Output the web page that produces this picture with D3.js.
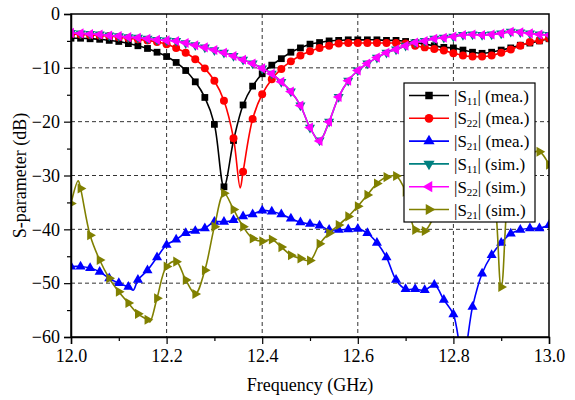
<!DOCTYPE html>
<html>
<head>
<meta charset="utf-8">
<script src="https://cdn.jsdelivr.net/npm/d3@7"></script>
<style>
    body { margin: 0; background: #fff; }
</style>
</head>
<body>
<div id="chart"></div>
<script>
const WIDTH = 575;
const HEIGHT = 400;
const MARGIN = { left: 71, right: 26, top: 14, bottom: 63 };
const FONT = '"Liberation Serif"';

// frequency points (GHz), one marker per point
const freqs = d3.range(51).map(i => +(12 + i * 0.02).toFixed(2));

const s11Mea = [-4.5, -4.5, -4.6, -4.7, -4.9, -5.1, -5.5, -5.9, -6.4, -7.1,
    -7.9, -9.0, -10.5, -12.6, -15.5, -20.5, -32.1, -23.5, -16.9, -13.4,
    -11.1, -9.5, -8.3, -7.1, -6.3, -5.6, -5.3, -5.0, -4.9, -4.8,
    -4.8, -4.8, -4.8, -4.9, -4.9, -5.1, -5.3, -5.6, -5.9, -6.2,
    -6.3, -6.7, -7.1, -7.3, -7.1, -6.7, -6.3, -5.8, -5.4, -5.0, -4.6];

const s22Mea = [-3.7, -3.8, -3.9, -4.0, -4.1, -4.3, -4.5, -4.7, -4.9, -5.2,
    -5.6, -6.3, -7.2, -8.4, -10.1, -12.4, -16.1, -23.1, -29.3, -19.5,
    -14.9, -12.1, -10.2, -8.8, -7.7, -6.9, -6.3, -5.9, -5.5, -5.4,
    -5.4, -5.4, -5.4, -5.4, -5.4, -5.5, -5.9, -6.2, -6.5, -6.8,
    -7.3, -7.7, -7.9, -7.9, -7.7, -7.2, -6.6, -5.9, -5.2, -4.9, -4.5];

const s21Mea = [-46.9, -46.9, -47.2, -47.9, -49.1, -50.0, -50.7, -49.4, -47.6, -45.2,
    -42.9, -41.9, -40.7, -40.3, -39.8, -38.6, -38.6, -38.3, -37.6, -37.2,
    -36.5, -36.7, -37.2, -38.0, -38.7, -39.0, -39.3, -40.1, -40.1, -40.0,
    -39.9, -40.7, -42.5, -45.2, -49.4, -51.1, -51.1, -51.3, -50.3, -53.1,
    -55.8, -64.0, -54.4, -48.2, -44.8, -42.5, -40.8, -40.1, -39.8, -39.8, -39.2];

const s11Sim = [-3.5, -3.6, -3.7, -3.8, -4.0, -4.1, -4.3, -4.4, -4.6, -4.8,
    -4.9, -5.0, -5.4, -5.8, -6.2, -6.7, -7.2, -7.8, -8.5, -9.2,
    -10.1, -11.1, -12.6, -14.4, -17.0, -21.1, -23.5, -20.0, -15.4, -12.4,
    -10.5, -9.2, -8.1, -7.2, -6.6, -5.9, -5.3, -5.0, -4.6, -4.4,
    -4.2, -3.9, -3.8, -3.9, -3.8, -3.6, -3.3, -3.4, -3.6, -3.8, -3.9];

const s22Sim = [-3.5, -3.6, -3.7, -3.8, -4.0, -4.1, -4.3, -4.4, -4.6, -4.8,
    -4.9, -5.0, -5.4, -5.8, -6.2, -6.7, -7.2, -7.8, -8.5, -9.2,
    -10.1, -11.1, -12.6, -14.4, -17.0, -21.1, -23.6, -20.0, -15.4, -12.4,
    -10.5, -9.2, -8.1, -7.2, -6.6, -5.9, -5.3, -5.0, -4.6, -4.4,
    -4.2, -3.9, -3.8, -3.9, -3.8, -3.6, -3.3, -3.4, -3.6, -3.8, -3.9];

const s21Sim = [-35.2, -32.4, -41.1, -45.7, -49.1, -51.6, -53.7, -55.7, -56.8, -52.8,
    -46.9, -46.0, -49.4, -52.0, -47.6, -39.5, -33.3, -36.3, -39.5, -41.7,
    -42.2, -41.9, -43.3, -44.8, -45.4, -45.8, -42.7, -40.7, -39.2, -37.6,
    -35.7, -33.6, -31.5, -30.3, -30.1, -33.0, -40.1, -40.3, -37.5, -33.5,
    -31.5, -30.0, -29.0, -28.8, -31.0, -50.7, -30.0, -27.0, -25.8, -25.6, -28.0];

// extra points on the curves that fall between markers [freq, dB]
const s22MeaExtra = [[12.354, -32.3]];
const s21MeaExtra = [[12.13, -51.3]];
const s21SimExtra = [[12.015, -31.0], [12.165, -57.2]];

const xTicks = [12.0, 12.2, 12.4, 12.6, 12.8, 13.0];
const yTicks = [0, -10, -20, -30, -40, -50, -60];

const series = [
    { name: '11', tag: '(mea.)', values: s11Mea, extra: [], color: '#000000', symbol: d3.symbolSquare, size: 46, rotate: 0 },
    { name: '22', tag: '(mea.)', values: s22Mea, extra: s22MeaExtra, color: '#ff0000', symbol: d3.symbolCircle, size: 50, rotate: 0 },
    { name: '21', tag: '(mea.)', values: s21Mea, extra: s21MeaExtra, color: '#0000ff', symbol: d3.symbolTriangle, size: 44, rotate: 0 },
    { name: '11', tag: '(sim.)', values: s11Sim, extra: [], color: '#008080', symbol: d3.symbolTriangle, size: 44, rotate: 180 },
    { name: '22', tag: '(sim.)', values: s22Sim, extra: [], color: '#ff00ff', symbol: d3.symbolTriangle, size: 44, rotate: -90 },
    { name: '21', tag: '(sim.)', values: s21Sim, extra: s21SimExtra, color: '#808000', symbol: d3.symbolTriangle, size: 44, rotate: 90 }
];

const svg = d3.select('#chart').append('svg')
    .attr('width', WIDTH)
    .attr('height', HEIGHT);

const w = WIDTH - MARGIN.left - MARGIN.right;
const h = HEIGHT - MARGIN.top - MARGIN.bottom;

const g = svg.append('g')
    .attr('transform', `translate(${MARGIN.left}, ${MARGIN.top})`);

const x = d3.scaleLinear().domain([12, 13]).range([0, w]);
const y = d3.scaleLinear().domain([-60, 0]).range([h, 0]);

// dashed grid
g.append('g')
    .selectAll('line')
    .data(xTicks.slice(1, -1))
    .join('line')
    .attr('x1', d => x(d)).attr('x2', d => x(d))
    .attr('y1', 0).attr('y2', h)
    .attr('stroke', '#333').attr('stroke-dasharray', '4,3').attr('stroke-width', 1);

g.append('g')
    .selectAll('line')
    .data(yTicks.slice(1, -1))
    .join('line')
    .attr('x1', 0).attr('x2', w)
    .attr('y1', d => y(d)).attr('y2', d => y(d))
    .attr('stroke', '#333').attr('stroke-dasharray', '4,3').attr('stroke-width', 1);

// clip data to plot area
svg.append('defs').append('clipPath')
    .attr('id', 'plot-clip')
    .append('rect')
    .attr('width', w).attr('height', h);

const plot = g.append('g').attr('clip-path', 'url(#plot-clip)');

const line = d3.line()
    .x(d => x(d[0]))
    .y(d => y(d[1]))
    .curve(d3.curveCatmullRom.alpha(0.5));

series.forEach(s => {
    const pts = freqs.map((f, i) => [f, s.values[i]])
        .concat(s.extra)
        .sort((a, b) => a[0] - b[0]);

    plot.append('path')
        .datum(pts)
        .attr('fill', 'none')
        .attr('stroke', s.color)
        .attr('stroke-width', 1.6)
        .attr('d', line);

    plot.append('g')
        .selectAll('path')
        .data(freqs.map((f, i) => [f, s.values[i]]))
        .join('path')
        .attr('d', d3.symbol(s.symbol, s.size))
        .attr('transform', d => `translate(${x(d[0])}, ${y(d[1])}) rotate(${s.rotate})`)
        .attr('fill', s.color);
});

// axes
g.append('g')
    .attr('transform', `translate(0, ${h})`)
    .call(d3.axisBottom(x).tickValues(xTicks).tickFormat(d3.format('.1f')).tickSize(7).tickPadding(5));

g.append('g')
    .attr('transform', `translate(0, ${h})`)
    .call(d3.axisBottom(x).tickValues(d3.range(12.1, 13, 0.2)).tickFormat('').tickSize(4))
    .select('.domain').remove();

g.append('g')
    .call(d3.axisLeft(y).tickValues(yTicks).tickSize(7).tickPadding(4));

g.append('g')
    .call(d3.axisLeft(y).tickValues(d3.range(-55, 0, 10)).tickFormat('').tickSize(4))
    .select('.domain').remove();

g.selectAll('.tick line').attr('stroke', '#000').attr('stroke-width', 1.2);
g.selectAll('.domain').attr('stroke', '#000').attr('stroke-width', 1.5);
g.selectAll('.tick text')
    .style('font-family', FONT)
    .style('font-size', '18px')
    .style('fill', '#000');

// frame top and right
g.append('rect')
    .attr('width', w).attr('height', h)
    .attr('fill', 'none').attr('stroke', '#000').attr('stroke-width', 1.5);

// axis titles
svg.append('text')
    .attr('x', MARGIN.left + w / 2)
    .attr('y', 391)
    .attr('text-anchor', 'middle')
    .style('font-family', FONT)
    .style('font-size', '18px')
    .text('Frequency (GHz)');

svg.append('text')
    .attr('transform', `translate(26, ${MARGIN.top + h / 2}) rotate(-90)`)
    .attr('text-anchor', 'middle')
    .style('font-family', FONT)
    .style('font-size', '18px')
    .text('S-parameter (dB)');

// legend
const legend = svg.append('g').attr('transform', 'translate(404, 83)');

legend.append('rect')
    .attr('width', 131).attr('height', 139)
    .attr('fill', '#fff').attr('stroke', '#000').attr('stroke-width', 1.2);

series.forEach((s, i) => {
    const row = legend.append('g').attr('transform', `translate(0, ${12.5 + i * 22.8})`);
    row.append('line')
        .attr('x1', 5).attr('x2', 45)
        .attr('stroke', s.color).attr('stroke-width', 1.6);
    row.append('path')
        .attr('d', d3.symbol(s.symbol, s.size + 10))
        .attr('transform', `translate(25, 0) rotate(${s.rotate})`)
        .attr('fill', s.color);
    const t = row.append('text')
        .attr('x', 50)
        .attr('y', 6)
        .style('font-family', FONT)
        .style('font-size', '17px');
    t.append('tspan').text('|S');
    t.append('tspan').attr('dy', 3).style('font-size', '11px').text(s.name);
    t.append('tspan').attr('dy', -3).text('| ' + s.tag);
});
</script>
</body>
</html>
